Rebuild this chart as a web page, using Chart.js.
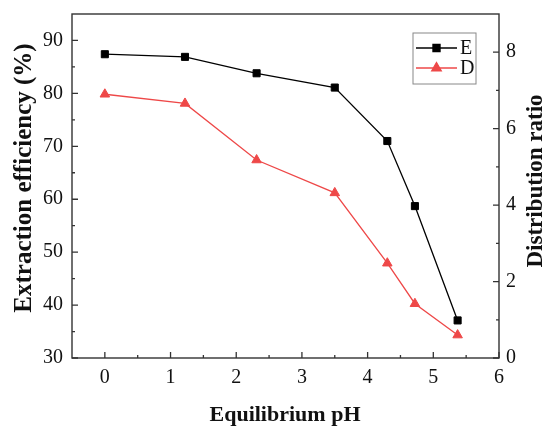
<!DOCTYPE html>
<html>
<head>
<meta charset="utf-8">
<script src="https://cdn.jsdelivr.net/npm/chart.js@4"></script>
<style>
html,body{margin:0;padding:0;background:#fff;}
#wrap{width:543px;height:426px;position:relative;}
</style>
</head>
<body>
<div id="wrap"><canvas id="c"></canvas></div>
<script>
// ---- data ----
const phValues = [0, 1.22, 2.31, 3.50, 4.30, 4.72, 5.37];
const extractionE = [87.4, 86.9, 83.8, 81.1, 71.0, 58.7, 37.1];
const distributionD = [6.90, 6.66, 5.18, 4.32, 2.48, 1.42, 0.60];
const xTicks = [0, 1, 2, 3, 4, 5, 6];
const xMinorTicks = [0.5, 1.5, 2.5, 3.5, 4.5, 5.5];
const yTicks = [30, 40, 50, 60, 70, 80, 90];
const yMinorTicks = [35, 45, 55, 65, 75, 85];
const y2Ticks = [0, 2, 4, 6, 8];
const y2MinorTicks = [1, 3, 5, 7];
const seriesNames = ['E', 'D'];
const xTitle = 'Equilibrium pH';
const yTitle = 'Extraction efficiency (%)';
const y2Title = 'Distribution ratio';

const BLACK = '#000000';
const RED = '#EE4848';
const SERIF = "'Liberation Serif', 'Times New Roman', serif";

Chart.defaults.font.family = SERIF;
const tickFont = {family: SERIF, size: 20};

function noPad(s) { s.paddingTop = 0; s.paddingBottom = 0; s.paddingLeft = 0; s.paddingRight = 0; }

const decor = {
  id: 'decor',
  afterDraw(chart) {
    const ctx = chart.ctx;
    const a = chart.chartArea;
    const sx = chart.scales.x, sy = chart.scales.y, sy2 = chart.scales.y2;
    ctx.save();
    // frame
    ctx.strokeStyle = '#333';
    ctx.lineWidth = 1.4;
    ctx.strokeRect(a.left, a.top, a.right - a.left, a.bottom - a.top);
    // ticks (inward)
    ctx.lineWidth = 1.3;
    ctx.beginPath();
    xTicks.forEach(v => { const p = sx.getPixelForValue(v); ctx.moveTo(p, a.bottom); ctx.lineTo(p, a.bottom - 6); });
    xMinorTicks.forEach(v => { const p = sx.getPixelForValue(v); ctx.moveTo(p, a.bottom); ctx.lineTo(p, a.bottom - 3); });
    yTicks.forEach(v => { const p = sy.getPixelForValue(v); ctx.moveTo(a.left, p); ctx.lineTo(a.left + 6, p); });
    yMinorTicks.forEach(v => { const p = sy.getPixelForValue(v); ctx.moveTo(a.left, p); ctx.lineTo(a.left + 3, p); });
    y2Ticks.forEach(v => { const p = sy2.getPixelForValue(v); ctx.moveTo(a.right, p); ctx.lineTo(a.right - 6, p); });
    y2MinorTicks.forEach(v => { const p = sy2.getPixelForValue(v); ctx.moveTo(a.right, p); ctx.lineTo(a.right - 3, p); });
    ctx.stroke();

    // titles
    ctx.fillStyle = '#111';
    ctx.textAlign = 'center';
    ctx.textBaseline = 'alphabetic';
    ctx.font = 'bold 22px ' + SERIF;
    ctx.fillText(xTitle, 285, 421);
    ctx.save();
    ctx.font = 'bold 25px ' + SERIF;
    ctx.translate(31, 178);
    ctx.rotate(-Math.PI / 2);
    ctx.fillText(yTitle, 0, 0);
    ctx.restore();
    ctx.save();
    ctx.font = 'bold 23px ' + SERIF;
    ctx.translate(542, 181);
    ctx.rotate(-Math.PI / 2);
    ctx.fillText(y2Title, 0, 0);
    ctx.restore();

    // legend
    const lx = 413, ly = 33, lw = 63, lh = 51;
    ctx.strokeStyle = '#888';
    ctx.lineWidth = 1;
    ctx.strokeRect(lx, ly, lw, lh);
    const rows = [48, 68];
    chart.data.datasets.forEach((ds, i) => {
      const yy = rows[i];
      ctx.strokeStyle = ds.borderColor;
      ctx.lineWidth = 1.3;
      ctx.beginPath();
      ctx.moveTo(416, yy); ctx.lineTo(457, yy);
      ctx.stroke();
      ctx.fillStyle = ds.pointBackgroundColor;
      ctx.strokeStyle = ds.pointBorderColor;
      Chart.helpers.drawPoint(ctx, {pointStyle: ds.pointStyle, radius: ds.pointRadius, borderWidth: 1, rotation: 0}, 436.5, yy);
      ctx.fillStyle = '#111';
      ctx.font = '20px ' + SERIF;
      ctx.textAlign = 'left';
      ctx.textBaseline = 'middle';
      ctx.fillText(ds.label, 460, yy + 1);
    });
    ctx.restore();
  }
};

new Chart(document.getElementById('c'), {
  type: 'line',
  data: {
    datasets: [
      {
        label: seriesNames[0],
        data: phValues.map((x, i) => ({x: x, y: extractionE[i]})),
        yAxisID: 'y',
        borderColor: BLACK,
        backgroundColor: BLACK,
        pointBackgroundColor: BLACK,
        pointBorderColor: BLACK,
        pointStyle: 'rect',
        pointRadius: 5,
        pointBorderWidth: 1,
        borderWidth: 1.3,
        tension: 0
      },
      {
        label: seriesNames[1],
        data: phValues.map((x, i) => ({x: x, y: distributionD[i]})),
        yAxisID: 'y2',
        borderColor: RED,
        backgroundColor: RED,
        pointBackgroundColor: RED,
        pointBorderColor: RED,
        pointStyle: 'triangle',
        pointRadius: 5.5,
        pointBorderWidth: 1,
        borderWidth: 1.3,
        tension: 0
      }
    ]
  },
  options: {
    responsive: true,
    maintainAspectRatio: false,
    animation: false,
    layout: {padding: {top: 14, left: 0, right: 0, bottom: 0}},
    plugins: {legend: {display: false}, tooltip: {enabled: false}},
    scales: {
      x: {
        type: 'linear', position: 'bottom', min: -0.5, max: 6,
        grid: {display: false, drawTicks: false},
        border: {display: false},
        ticks: {font: tickFont, color: '#111', padding: 8, maxRotation: 0},
        afterBuildTicks: s => { s.ticks = xTicks.map(v => ({value: v})); },
        afterFit: s => { s.height = 68; noPad(s); }
      },
      y: {
        type: 'linear', position: 'left', min: 30, max: 95,
        grid: {display: false, drawTicks: false},
        border: {display: false},
        ticks: {font: tickFont, color: '#111', padding: 9},
        afterBuildTicks: s => { s.ticks = yTicks.map(v => ({value: v})); },
        afterFit: s => { s.width = 72; noPad(s); }
      },
      y2: {
        type: 'linear', position: 'right', min: 0, max: 9,
        grid: {display: false, drawTicks: false},
        border: {display: false},
        ticks: {font: tickFont, color: '#111', padding: 7},
        afterBuildTicks: s => { s.ticks = y2Ticks.map(v => ({value: v})); },
        afterFit: s => { s.width = 44; noPad(s); }
      }
    }
  },
  plugins: [decor]
});
</script>
</body>
</html>
